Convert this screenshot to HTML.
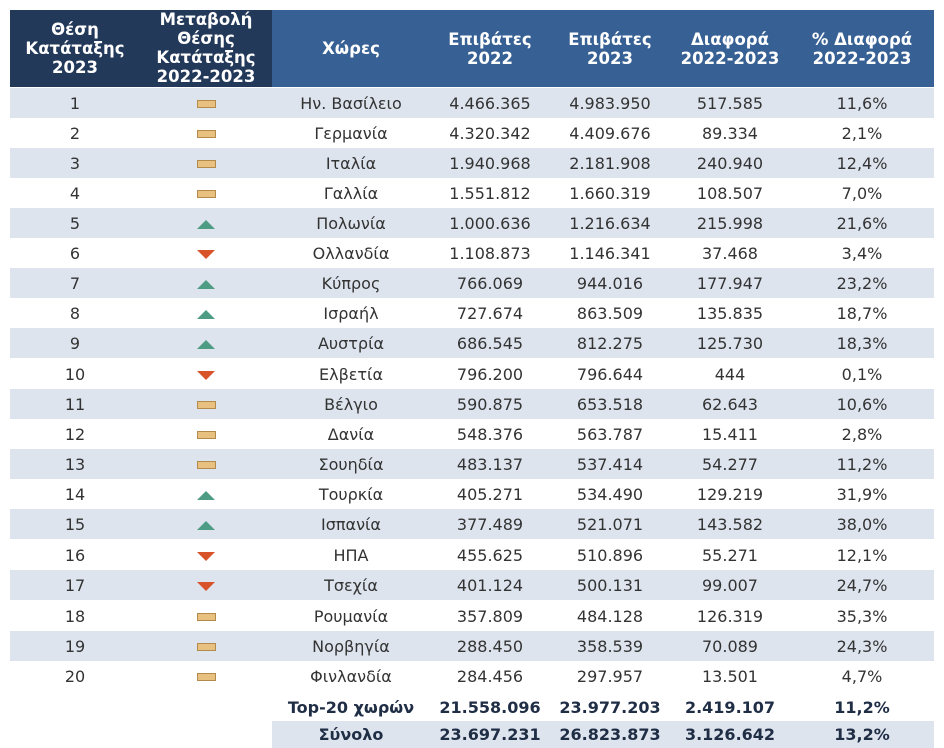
<!DOCTYPE html>
<html><head><meta charset="utf-8"><style>
body{margin:0;width:944px;height:748px;background:#fff;font-family:"DejaVu Sans","Liberation Sans",sans-serif;color:#333;position:relative;overflow:hidden}
.h{position:absolute;top:10px;height:77px;display:flex;align-items:center;justify-content:center;text-align:center;color:#fff;font-weight:bold;font-size:16.5px;line-height:19px;overflow:hidden}
.r{position:absolute;left:10px;width:924px;height:30px;display:flex;align-items:center;font-size:16px}
.r.s{background:#dde4ee}
.r div{text-align:center}
.c1{width:130px}.c2{width:132px}.c3{width:158px}.c4{width:120px}.c5{width:120px}.c6{width:120px}.c7{width:144px}
.eq{display:inline-block;width:17px;height:6px;background:#e8c080;border:1px solid #b48a4a;vertical-align:middle}
.up{display:inline-block;width:0;height:0;border-left:9px solid transparent;border-right:9px solid transparent;border-bottom:9px solid #4f9c84;vertical-align:middle}
.dn{display:inline-block;width:0;height:0;border-left:9px solid transparent;border-right:9px solid transparent;border-top:9px solid #d9532a;vertical-align:middle}
.b{font-weight:bold;color:#1f2d45}
</style></head><body>
<div class="h" style="left:10px;width:262px;background:#23395a"></div>
<div class="h" style="left:10px;width:130px">Θέση<br>Κατάταξης<br>2023</div>
<div class="h" style="left:140px;width:132px;align-items:flex-end;height:76px">Μεταβολή<br>Θέσης<br>Κατάταξης<br>2022-2023</div>
<div class="h" style="left:272px;width:662px;background:#376194"></div>
<div class="h" style="left:272px;width:158px">Χώρες</div>
<div class="h" style="left:430px;width:120px">Επιβάτες<br>2022</div>
<div class="h" style="left:550px;width:120px">Επιβάτες<br>2023</div>
<div class="h" style="left:670px;width:120px">Διαφορά<br>2022-2023</div>
<div class="h" style="left:790px;width:144px">% Διαφορά<br>2022-2023</div>

<div class="r s" style="top:88px"><div class="c1">1</div><div class="c2"><span class="eq"></span></div><div class="c3">Ην. Βασίλειο</div><div class="c4">4.466.365</div><div class="c5">4.983.950</div><div class="c6">517.585</div><div class="c7">11,6%</div></div>
<div class="r" style="top:118px"><div class="c1">2</div><div class="c2"><span class="eq"></span></div><div class="c3">Γερμανία</div><div class="c4">4.320.342</div><div class="c5">4.409.676</div><div class="c6">89.334</div><div class="c7">2,1%</div></div>
<div class="r s" style="top:148px"><div class="c1">3</div><div class="c2"><span class="eq"></span></div><div class="c3">Ιταλία</div><div class="c4">1.940.968</div><div class="c5">2.181.908</div><div class="c6">240.940</div><div class="c7">12,4%</div></div>
<div class="r" style="top:178px"><div class="c1">4</div><div class="c2"><span class="eq"></span></div><div class="c3">Γαλλία</div><div class="c4">1.551.812</div><div class="c5">1.660.319</div><div class="c6">108.507</div><div class="c7">7,0%</div></div>
<div class="r s" style="top:208px"><div class="c1">5</div><div class="c2"><span class="up"></span></div><div class="c3">Πολωνία</div><div class="c4">1.000.636</div><div class="c5">1.216.634</div><div class="c6">215.998</div><div class="c7">21,6%</div></div>
<div class="r" style="top:238px"><div class="c1">6</div><div class="c2"><span class="dn"></span></div><div class="c3">Ολλανδία</div><div class="c4">1.108.873</div><div class="c5">1.146.341</div><div class="c6">37.468</div><div class="c7">3,4%</div></div>
<div class="r s" style="top:268px"><div class="c1">7</div><div class="c2"><span class="up"></span></div><div class="c3">Κύπρος</div><div class="c4">766.069</div><div class="c5">944.016</div><div class="c6">177.947</div><div class="c7">23,2%</div></div>
<div class="r" style="top:298px"><div class="c1">8</div><div class="c2"><span class="up"></span></div><div class="c3">Ισραήλ</div><div class="c4">727.674</div><div class="c5">863.509</div><div class="c6">135.835</div><div class="c7">18,7%</div></div>
<div class="r s" style="top:328px"><div class="c1">9</div><div class="c2"><span class="up"></span></div><div class="c3">Αυστρία</div><div class="c4">686.545</div><div class="c5">812.275</div><div class="c6">125.730</div><div class="c7">18,3%</div></div>
<div class="r" style="top:359px"><div class="c1">10</div><div class="c2"><span class="dn"></span></div><div class="c3">Ελβετία</div><div class="c4">796.200</div><div class="c5">796.644</div><div class="c6">444</div><div class="c7">0,1%</div></div>
<div class="r s" style="top:389px"><div class="c1">11</div><div class="c2"><span class="eq"></span></div><div class="c3">Βέλγιο</div><div class="c4">590.875</div><div class="c5">653.518</div><div class="c6">62.643</div><div class="c7">10,6%</div></div>
<div class="r" style="top:419px"><div class="c1">12</div><div class="c2"><span class="eq"></span></div><div class="c3">Δανία</div><div class="c4">548.376</div><div class="c5">563.787</div><div class="c6">15.411</div><div class="c7">2,8%</div></div>
<div class="r s" style="top:449px"><div class="c1">13</div><div class="c2"><span class="eq"></span></div><div class="c3">Σουηδία</div><div class="c4">483.137</div><div class="c5">537.414</div><div class="c6">54.277</div><div class="c7">11,2%</div></div>
<div class="r" style="top:479px"><div class="c1">14</div><div class="c2"><span class="up"></span></div><div class="c3">Τουρκία</div><div class="c4">405.271</div><div class="c5">534.490</div><div class="c6">129.219</div><div class="c7">31,9%</div></div>
<div class="r s" style="top:509px"><div class="c1">15</div><div class="c2"><span class="up"></span></div><div class="c3">Ισπανία</div><div class="c4">377.489</div><div class="c5">521.071</div><div class="c6">143.582</div><div class="c7">38,0%</div></div>
<div class="r" style="top:540px"><div class="c1">16</div><div class="c2"><span class="dn"></span></div><div class="c3">ΗΠΑ</div><div class="c4">455.625</div><div class="c5">510.896</div><div class="c6">55.271</div><div class="c7">12,1%</div></div>
<div class="r s" style="top:570px"><div class="c1">17</div><div class="c2"><span class="dn"></span></div><div class="c3">Τσεχία</div><div class="c4">401.124</div><div class="c5">500.131</div><div class="c6">99.007</div><div class="c7">24,7%</div></div>
<div class="r" style="top:601px"><div class="c1">18</div><div class="c2"><span class="eq"></span></div><div class="c3">Ρουμανία</div><div class="c4">357.809</div><div class="c5">484.128</div><div class="c6">126.319</div><div class="c7">35,3%</div></div>
<div class="r s" style="top:631px"><div class="c1">19</div><div class="c2"><span class="eq"></span></div><div class="c3">Νορβηγία</div><div class="c4">288.450</div><div class="c5">358.539</div><div class="c6">70.089</div><div class="c7">24,3%</div></div>
<div class="r" style="top:661px"><div class="c1">20</div><div class="c2"><span class="eq"></span></div><div class="c3">Φινλανδία</div><div class="c4">284.456</div><div class="c5">297.957</div><div class="c6">13.501</div><div class="c7">4,7%</div></div>
<div class="r b" style="top:692px"><div class="c1"></div><div class="c2"></div><div class="c3">Top-20 χωρών</div><div class="c4">21.558.096</div><div class="c5">23.977.203</div><div class="c6">2.419.107</div><div class="c7">11,2%</div></div>
<div class="r b" style="top:721px;left:272px;width:662px;height:27px;background:#dde4ee"><div class="c3">Σύνολο</div><div class="c4">23.697.231</div><div class="c5">26.823.873</div><div class="c6">3.126.642</div><div class="c7">13,2%</div></div>
</body></html>
